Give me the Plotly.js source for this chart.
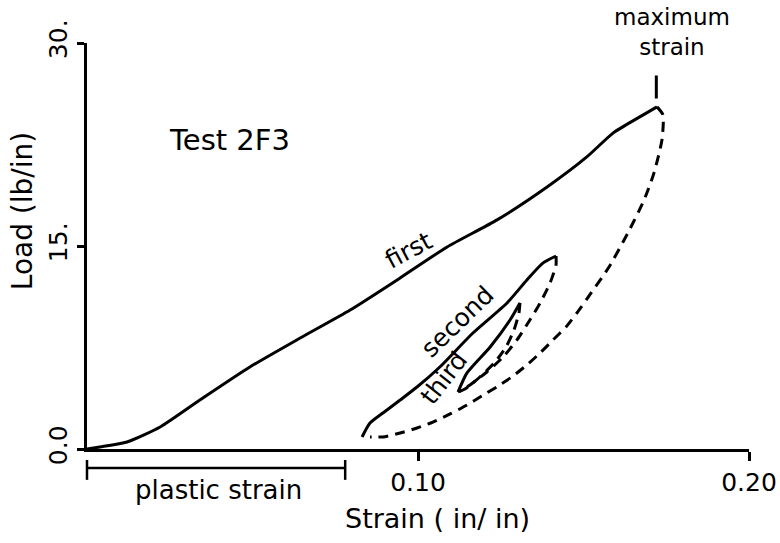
<!DOCTYPE html>
<html>
<head>
<meta charset="utf-8">
<script src="https://cdn.plot.ly/plotly-3.0.1.min.js"></script>
<style>html,body{margin:0;padding:0;background:#fff;}#chart{width:780px;height:543px;}</style>
</head>
<body>
<div id="chart"></div>
<script>
// ---- data ----
var firstLoadX = [0, 0.0039, 0.0121, 0.0221, 0.0341, 0.0492, 0.0644, 0.0795, 0.0946, 0.1088, 0.1239, 0.1390, 0.1510, 0.1590, 0.1670, 0.1722];
var firstLoadY = [0, 0.15, 0.52, 1.63, 3.62, 6.06, 8.20, 10.27, 12.64, 14.93, 16.93, 19.36, 21.58, 23.36, 24.54, 25.28];
var firstUnloadX = [0.1722, 0.1740, 0.1737, 0.1713, 0.1683, 0.1634, 0.1577, 0.1523, 0.1480, 0.1447, 0.1408, 0.1369, 0.1329, 0.1287, 0.1242, 0.1193, 0.1148, 0.1097, 0.1045, 0.0997, 0.0946, 0.0894, 0.0855];
var firstUnloadY = [25.28, 24.69, 22.84, 20.40, 18.40, 15.96, 13.45, 11.53, 10.05, 9.02, 8.06, 7.10, 6.21, 5.39, 4.65, 3.92, 3.25, 2.59, 1.99, 1.55, 1.18, 0.89, 0.89];
var secondLoadX = [0.0831, 0.0855, 0.0894, 0.0946, 0.0997, 0.1066, 0.1166, 0.1269, 0.1329, 0.1378, 0.1417];
var secondLoadY = [0.89, 1.92, 2.66, 3.62, 4.58, 6.06, 8.57, 10.79, 12.49, 13.75, 14.26];
var secondUnloadX = [0.1417, 0.1417, 0.1399, 0.1369, 0.1338, 0.1299, 0.1257, 0.1208, 0.1157, 0.1121];
var secondUnloadY = [14.26, 13.60, 12.27, 10.79, 9.53, 8.06, 6.80, 5.69, 4.73, 4.21];
var thirdLoadX = [0.1121, 0.1148, 0.1218, 0.1278, 0.1308];
var thirdLoadY = [4.21, 5.62, 7.54, 9.53, 10.79];
var thirdUnloadX = [0.1308, 0.1305, 0.1290, 0.1266, 0.1233, 0.1187, 0.1142, 0.1121];
var thirdUnloadY = [10.79, 10.05, 8.80, 7.54, 6.43, 5.32, 4.43, 4.21];
var maxStrainX = [0.172, 0.172];
var maxStrainY = [25.9, 27.6];
var plasticStrain = [0, 0.078];
var xTickVals = [0.10, 0.20];
var xTickText = ["0.10", "0.20"];
var yTickVals = [0, 15, 30];
var yTickText = ["0.0", "15.", "30."];
var xRange = [0, 0.20];
var yRange = [0, 30];

var FONT = "DejaVu Sans, Arial, sans-serif";
var solid = {color: "#000", width: 3, shape: "spline", smoothing: 0.6};
var dashed = {color: "#000", width: 3, shape: "spline", smoothing: 0.6, dash: "10px,7px"};

var traces = [
  {x: firstLoadX, y: firstLoadY, mode: "lines", line: solid, name: "first"},
  {x: firstUnloadX, y: firstUnloadY, mode: "lines", line: dashed, name: "first unload"},
  {x: secondLoadX, y: secondLoadY, mode: "lines", line: solid, name: "second"},
  {x: secondUnloadX, y: secondUnloadY, mode: "lines", line: dashed, name: "second unload"},
  {x: thirdLoadX, y: thirdLoadY, mode: "lines", line: solid, name: "third"},
  {x: thirdUnloadX, y: thirdUnloadY, mode: "lines", line: dashed, name: "third unload"},
  {x: maxStrainX, y: maxStrainY, mode: "lines", line: {color: "#000", width: 3}, name: "maximum strain"}
];

var px0 = plasticStrain[0] / xRange[1], px1 = plasticStrain[1] / xRange[1];
var shapes = [
  {type: "line", xref: "paper", yref: "paper", x0: px0, x1: px1, y0: -0.047, y1: -0.047, line: {color: "#000", width: 2.5}},
  {type: "line", xref: "paper", yref: "paper", x0: px0, x1: px0, y0: -0.027, y1: -0.076, line: {color: "#000", width: 2.5}},
  {type: "line", xref: "paper", yref: "paper", x0: px1, x1: px1, y0: -0.027, y1: -0.076, line: {color: "#000", width: 2.5}}
];

function ann(text, x, y, angle, size, xref, yref) {
  return {text: text, x: x, y: y, xref: xref || "x", yref: yref || "y", showarrow: false,
          textangle: angle || 0, font: {family: FONT, size: size || 26, color: "#000"},
          xanchor: "center", yanchor: "middle"};
}

var annotations = [
  ann("Test 2F3", 0.0432, 22.8, 0, 29),
  ann("maximum<br>strain", 0.884, 1.027, 0, 23, "paper", "paper"),
  ann("first", 0.097, 14.7, -28, 25),
  ann("second", 0.112, 9.4, -44, 25),
  ann("third", 0.108, 5.25, -52, 25),
  ann("plastic strain", 0.198, -0.101, 0, 26, "paper", "paper"),
  ann("Strain ( in/ in)", 0.529, -0.170, 0, 27, "paper", "paper"),
  ann("Load (lb/in)", -0.098, 0.586, -90, 28, "paper", "paper")
];

var layout = {
  width: 780, height: 543,
  margin: {l: 87, r: 31, t: 43, b: 94},
  paper_bgcolor: "#fff", plot_bgcolor: "#fff",
  showlegend: false,
  xaxis: {range: xRange, tickvals: xTickVals, ticktext: xTickText, showgrid: false, zeroline: false,
          showline: true, linecolor: "#000", linewidth: 3, ticks: "outside", ticklen: 9, tickwidth: 3, tickcolor: "#000",
          tickfont: {family: FONT, size: 25, color: "#000"}},
  yaxis: {range: yRange, tickvals: yTickVals, ticktext: yTickText, showgrid: false, zeroline: false,
          showline: true, linecolor: "#000", linewidth: 3, ticks: "outside", ticklen: 7, tickwidth: 3, tickcolor: "#000",
          tickangle: -90, tickfont: {family: FONT, size: 25, color: "#000"}},
  shapes: shapes,
  annotations: annotations
};

Plotly.newPlot("chart", traces, layout, {staticPlot: true});
</script>
</body>
</html>
